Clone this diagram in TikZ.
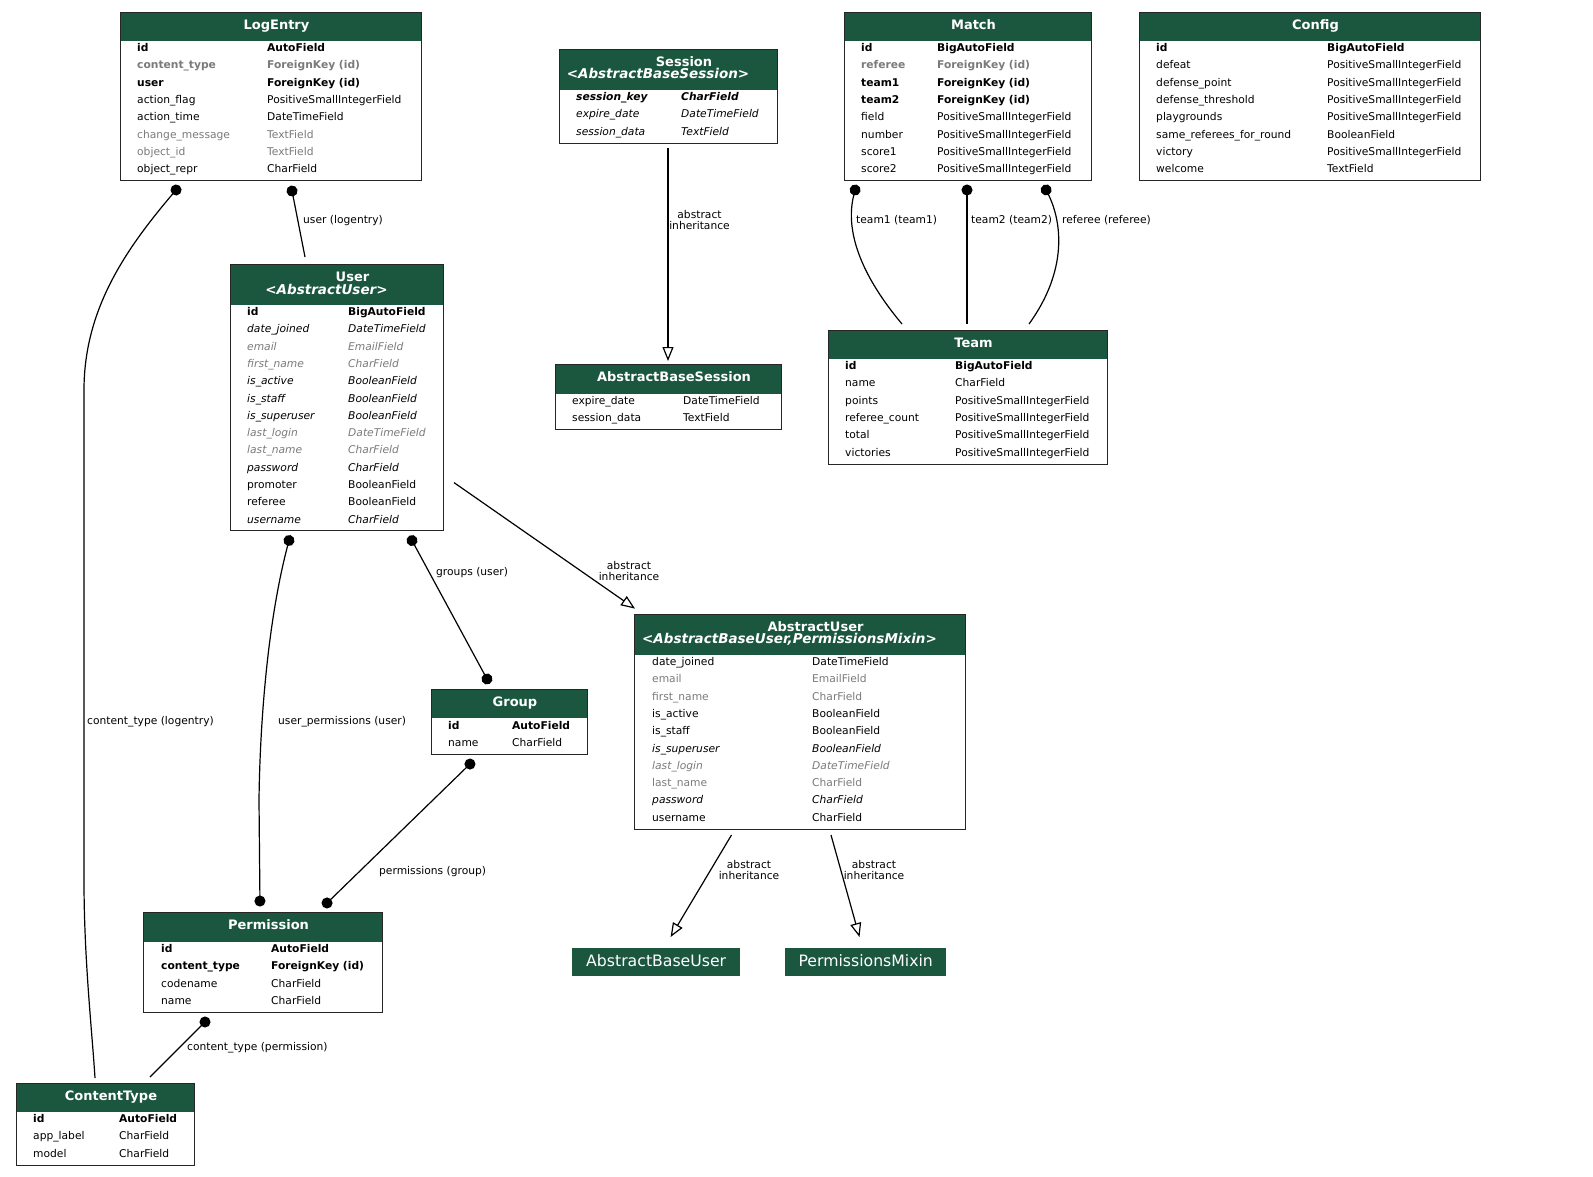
\documentclass[tikz,border=0pt]{standalone}
\usepackage{fontspec}
\setmainfont{DejaVu Sans}
\usetikzlibrary{arrows.meta}
\definecolor{djgreen}{HTML}{1B563F}
\definecolor{fieldgray}{HTML}{7B7B7B}
\newcommand{\fieldfont}{\fontsize{10.7}{11.6}\selectfont}
\newcommand{\titlefont}{\fontsize{13}{14}\selectfont\bfseries}
\newcommand{\subfont}{\fontsize{13.5}{14}\selectfont\bfseries\itshape}
% field looks
\newcommand{\ffplain}{}
\newcommand{\ffkey}{\bfseries}
\newcommand{\ffkeyg}{\bfseries\color{fieldgray}}
\newcommand{\ffgray}{\color{fieldgray}}
\newcommand{\ffital}{\itshape}
\newcommand{\ffitalg}{\itshape\color{fieldgray}}
\newcommand{\ffitalkey}{\bfseries\itshape}
\tikzstyle{modelbox}=[draw=black!85, line width=1.3pt, anchor=north west, inner sep=0pt]
\tikzstyle{header}=[fill=djgreen]
\tikzstyle{modeltitle}=[anchor=base, inner sep=0pt, text=white, font=\titlefont]
\tikzstyle{modelsub}=[anchor=base, inner sep=0pt, text=white, font=\subfont]
\tikzstyle{field}=[anchor=base west, inner sep=0pt, font=\fieldfont]
\tikzstyle{plainbox}=[fill=djgreen, text=white, anchor=north west, inner sep=0pt,
  text height=11.5pt, text depth=3pt, font=\fontsize{15.7}{17}\selectfont]
\tikzstyle{fklink}=[line width=1.2pt, {Circle[length=11pt]}-]
\tikzstyle{dotboth}=[line width=1.2pt, {Circle[length=11pt]}-{Circle[length=11pt]}]
\tikzstyle{inherit}=[line width=1.2pt, -{Triangle[open, length=14pt, width=11pt]}]
\tikzstyle{edgelabel}=[anchor=base west, inner sep=0pt, font=\fieldfont]
\tikzstyle{inhlabel}=[align=center, inner sep=0pt, font=\fieldfont]

\begin{document}
\begin{tikzpicture}[x=1pt, y=-1pt]
    \path[use as bounding box, fill=white] (0,0) rectangle (1593,1176);

    % LogEntry
    \fill[header] (120,12) rectangle (421,40.5);
    \node[modelbox, minimum width=301pt, minimum height=168pt] (logentry) at (120,12) {};
    \node[modeltitle] (logentry-title) at (276.5,29.5) {LogEntry};
    \foreach \fname/\ftype/\fst [count=\i from 0] in {
        id/AutoField/\ffkey, content\_type/ForeignKey (id)/\ffkeyg,
        user/ForeignKey (id)/\ffkey, action\_flag/PositiveSmallIntegerField/\ffplain,
        action\_time/DateTimeField/\ffplain, change\_message/TextField/\ffgray,
        object\_id/TextField/\ffgray, object\_repr/CharField/\ffplain} {
        \node[field] (logentry-n\i) at (137,51.5+17.3*\i) {\fst\fname};
        \node[field] (logentry-t\i) at (267,51.5+17.3*\i) {\fst\ftype};
    }

    % Session
    \fill[header] (559,48.5) rectangle (777,89.5);
    \node[modelbox, minimum width=218pt, minimum height=94pt] (session) at (559,48.5) {};
    \node[modeltitle] (session-title) at (684,66) {Session};
    \node[modelsub] (session-sub) at (658,78.5) {<AbstractBaseSession>};
    \foreach \fname/\ftype/\fst [count=\i from 0] in {
        session\_key/CharField/\ffitalkey, expire\_date/DateTimeField/\ffital,
        session\_data/TextField/\ffital} {
        \node[field] (session-n\i) at (576,100.5+17.3*\i) {\fst\fname};
        \node[field] (session-t\i) at (681,100.5+17.3*\i) {\fst\ftype};
    }

    % Match
    \fill[header] (844,12) rectangle (1091,40.5);
    \node[modelbox, minimum width=247pt, minimum height=168pt] (match) at (844,12) {};
    \node[modeltitle] (match-title) at (973.5,29.5) {Match};
    \foreach \fname/\ftype/\fst [count=\i from 0] in {
        id/BigAutoField/\ffkey, referee/ForeignKey (id)/\ffkeyg,
        team1/ForeignKey (id)/\ffkey, team2/ForeignKey (id)/\ffkey,
        field/PositiveSmallIntegerField/\ffplain, number/PositiveSmallIntegerField/\ffplain,
        score1/PositiveSmallIntegerField/\ffplain, score2/PositiveSmallIntegerField/\ffplain} {
        \node[field] (match-n\i) at (861,51.5+17.3*\i) {\fst\fname};
        \node[field] (match-t\i) at (937,51.5+17.3*\i) {\fst\ftype};
    }

    % Config
    \fill[header] (1139,12) rectangle (1480,40.5);
    \node[modelbox, minimum width=341pt, minimum height=168pt] (config) at (1139,12) {};
    \node[modeltitle] (config-title) at (1315.5,29.5) {Config};
    \foreach \fname/\ftype/\fst [count=\i from 0] in {
        id/BigAutoField/\ffkey, defeat/PositiveSmallIntegerField/\ffplain,
        defense\_point/PositiveSmallIntegerField/\ffplain,
        defense\_threshold/PositiveSmallIntegerField/\ffplain,
        playgrounds/PositiveSmallIntegerField/\ffplain,
        same\_referees\_for\_round/BooleanField/\ffplain,
        victory/PositiveSmallIntegerField/\ffplain, welcome/TextField/\ffplain} {
        \node[field] (config-n\i) at (1156,51.5+17.3*\i) {\fst\fname};
        \node[field] (config-t\i) at (1327,51.5+17.3*\i) {\fst\ftype};
    }

    % User
    \fill[header] (230,264) rectangle (443,304.5);
    \node[modelbox, minimum width=213pt, minimum height=266pt] (user) at (230,264) {};
    \node[modeltitle] (user-title) at (352.5,281.5) {User};
    \node[modelsub] (user-sub) at (326.5,294) {<AbstractUser>};
    \foreach \fname/\ftype/\fst [count=\i from 0] in {
        id/BigAutoField/\ffkey, date\_joined/DateTimeField/\ffital,
        email/EmailField/\ffitalg, first\_name/CharField/\ffitalg,
        is\_active/BooleanField/\ffital, is\_staff/BooleanField/\ffital,
        is\_superuser/BooleanField/\ffital, last\_login/DateTimeField/\ffitalg,
        last\_name/CharField/\ffitalg, password/CharField/\ffital,
        promoter/BooleanField/\ffplain, referee/BooleanField/\ffplain,
        username/CharField/\ffital} {
        \node[field] (user-n\i) at (247,315.5+17.3*\i) {\fst\fname};
        \node[field] (user-t\i) at (348,315.5+17.3*\i) {\fst\ftype};
    }

    % Team
    \fill[header] (828,329.5) rectangle (1107,358.5);
    \node[modelbox, minimum width=279pt, minimum height=134pt] (team) at (828,329.5) {};
    \node[modeltitle] (team-title) at (973.5,347) {Team};
    \foreach \fname/\ftype/\fst [count=\i from 0] in {
        id/BigAutoField/\ffkey, name/CharField/\ffplain,
        points/PositiveSmallIntegerField/\ffplain,
        referee\_count/PositiveSmallIntegerField/\ffplain,
        total/PositiveSmallIntegerField/\ffplain,
        victories/PositiveSmallIntegerField/\ffplain} {
        \node[field] (team-n\i) at (845,369.5+17.3*\i) {\fst\fname};
        \node[field] (team-t\i) at (955,369.5+17.3*\i) {\fst\ftype};
    }

    % AbstractBaseSession
    \fill[header] (555,364) rectangle (781,393.5);
    \node[modelbox, minimum width=226pt, minimum height=65pt] (abssession) at (555,364) {};
    \node[modeltitle] (abssession-title) at (674,381.5) {AbstractBaseSession};
    \foreach \fname/\ftype/\fst [count=\i from 0] in {
        expire\_date/DateTimeField/\ffplain, session\_data/TextField/\ffplain} {
        \node[field] (abssession-n\i) at (572,404.5+17.3*\i) {\fst\fname};
        \node[field] (abssession-t\i) at (683,404.5+17.3*\i) {\fst\ftype};
    }

    % AbstractUser
    \fill[header] (634,613.5) rectangle (965,654.5);
    \node[modelbox, minimum width=331pt, minimum height=215pt] (absuser) at (634,613.5) {};
    \node[modeltitle] (absuser-title) at (815.5,631) {AbstractUser};
    \node[modelsub] (absuser-sub) at (789.5,643.5) {<AbstractBaseUser,PermissionsMixin>};
    \foreach \fname/\ftype/\fst [count=\i from 0] in {
        date\_joined/DateTimeField/\ffplain, email/EmailField/\ffgray,
        first\_name/CharField/\ffgray, is\_active/BooleanField/\ffplain,
        is\_staff/BooleanField/\ffplain, is\_superuser/BooleanField/\ffital,
        last\_login/DateTimeField/\ffitalg, last\_name/CharField/\ffgray,
        password/CharField/\ffital, username/CharField/\ffplain} {
        \node[field] (absuser-n\i) at (652,665.5+17.3*\i) {\fst\fname};
        \node[field] (absuser-t\i) at (812,665.5+17.3*\i) {\fst\ftype};
    }

    % Group
    \fill[header] (431,689) rectangle (587,718);
    \node[modelbox, minimum width=156pt, minimum height=65pt] (group) at (431,689) {};
    \node[modeltitle] (group-title) at (515,706.5) {Group};
    \foreach \fname/\ftype/\fst [count=\i from 0] in {
        id/AutoField/\ffkey, name/CharField/\ffplain} {
        \node[field] (group-n\i) at (448,729+17.3*\i) {\fst\fname};
        \node[field] (group-t\i) at (512,729+17.3*\i) {\fst\ftype};
    }

    % Permission
    \fill[header] (143,912) rectangle (382,941.5);
    \node[modelbox, minimum width=239pt, minimum height=100pt] (permission) at (143,912) {};
    \node[modeltitle] (permission-title) at (268.5,929.5) {Permission};
    \foreach \fname/\ftype/\fst [count=\i from 0] in {
        id/AutoField/\ffkey, content\_type/ForeignKey (id)/\ffkey,
        codename/CharField/\ffplain, name/CharField/\ffplain} {
        \node[field] (permission-n\i) at (161,952.5+17.3*\i) {\fst\fname};
        \node[field] (permission-t\i) at (271,952.5+17.3*\i) {\fst\ftype};
    }

    % ContentType
    \fill[header] (16,1083) rectangle (194,1111.5);
    \node[modelbox, minimum width=178pt, minimum height=82pt] (contenttype) at (16,1083) {};
    \node[modeltitle] (contenttype-title) at (111,1100) {ContentType};
    \foreach \fname/\ftype/\fst [count=\i from 0] in {
        id/AutoField/\ffkey, app\_label/CharField/\ffplain, model/CharField/\ffplain} {
        \node[field] (contenttype-n\i) at (33,1122.5+17.3*\i) {\fst\fname};
        \node[field] (contenttype-t\i) at (119,1122.5+17.3*\i) {\fst\ftype};
    }

    % Bases without fields
    \node[plainbox, minimum width=168pt, minimum height=28pt] (absbaseuser) at (572,948) {AbstractBaseUser};
    \node[plainbox, minimum width=161pt, minimum height=28pt] (permmixin) at (785,948) {PermissionsMixin};

    % End points
    \coordinate (le-user) at (291,185.6);
    \coordinate (user-in) at (305,257);
    \coordinate (le-ct) at (179.6,185.8);
    \coordinate (ct-in1) at (95,1078);
    \coordinate (session-out) at (668,148);
    \coordinate (abssession-in) at (668,361);
    \coordinate (match-team1) at (856.5,184.7);
    \coordinate (match-team2) at (967,184.5);
    \coordinate (match-referee) at (1043.7,185);
    \coordinate (team-in1) at (902,324);
    \coordinate (team-in2) at (967,324);
    \coordinate (team-in3) at (1029,324);
    \coordinate (user-groups) at (409.4,535.7);
    \coordinate (group-in) at (489.6,683.8);
    \coordinate (user-perms) at (290.4,535.2);
    \coordinate (perm-in1) at (260,906.5);
    \coordinate (group-perms) at (473.9,760.2);
    \coordinate (perm-in2) at (323.1,906.8);
    \coordinate (perm-ct) at (208.9,1018.1);
    \coordinate (ct-in2) at (150,1077);
    \coordinate (user-out) at (454,482.6);
    \coordinate (absuser-in) at (635,608.6);
    \coordinate (absuser-out1) at (731.5,835);
    \coordinate (absbaseuser-in) at (670.6,937);
    \coordinate (absuser-out2) at (831,835);
    \coordinate (permmixin-in) at (859.5,937);

    % Foreign keys
    \draw[fklink] (le-user) -- (user-in);
    \node[edgelabel] (lbl-user) at (303,223.5) {user (logentry)};
    \draw[fklink] (le-ct) .. controls (125,250) and (84,310) .. (84,390) -- (84,880)
        .. controls (84,960) and (92,1030) .. (ct-in1);
    \node[edgelabel] (lbl-ct) at (87,724) {content\_type (logentry)};
    \draw[fklink] (match-team1) .. controls (846,225) and (855,268) .. (team-in1);
    \node[edgelabel] (lbl-team1) at (856,223.5) {team1 (team1)};
    \draw[fklink] (match-team2) -- (team-in2);
    \node[edgelabel] (lbl-team2) at (971,223.5) {team2 (team2)};
    \draw[fklink] (match-referee) .. controls (1062,222) and (1068,270) .. (team-in3);
    \node[edgelabel] (lbl-referee) at (1062,223.5) {referee (referee)};
    \draw[dotboth] (user-groups) -- (group-in);
    \node[edgelabel] (lbl-groups) at (436,575) {groups (user)};
    \draw[dotboth] (user-perms) .. controls (268,620) and (260,720) .. (259,800) -- (perm-in1);
    \node[edgelabel] (lbl-uperms) at (278,724) {user\_permissions (user)};
    \draw[dotboth] (group-perms) -- (perm-in2);
    \node[edgelabel] (lbl-gperms) at (379,874) {permissions (group)};
    \draw[fklink] (perm-ct) -- (ct-in2);
    \node[edgelabel] (lbl-pct) at (187,1050.5) {content\_type (permission)};

    % Abstract inheritance
    \draw[inherit] (session-out) -- (abssession-in);
    \node[inhlabel] (lbl-inh1) at (699.5,220) {abstract\\inheritance};
    \draw[inherit] (user-out) -- (absuser-in);
    \node[inhlabel] (lbl-inh2) at (629,571) {abstract\\inheritance};
    \draw[inherit] (absuser-out1) -- (absbaseuser-in);
    \node[inhlabel] (lbl-inh3) at (749,870) {abstract\\inheritance};
    \draw[inherit] (absuser-out2) -- (permmixin-in);
    \node[inhlabel] (lbl-inh4) at (874,870) {abstract\\inheritance};
\end{tikzpicture}
\end{document}
